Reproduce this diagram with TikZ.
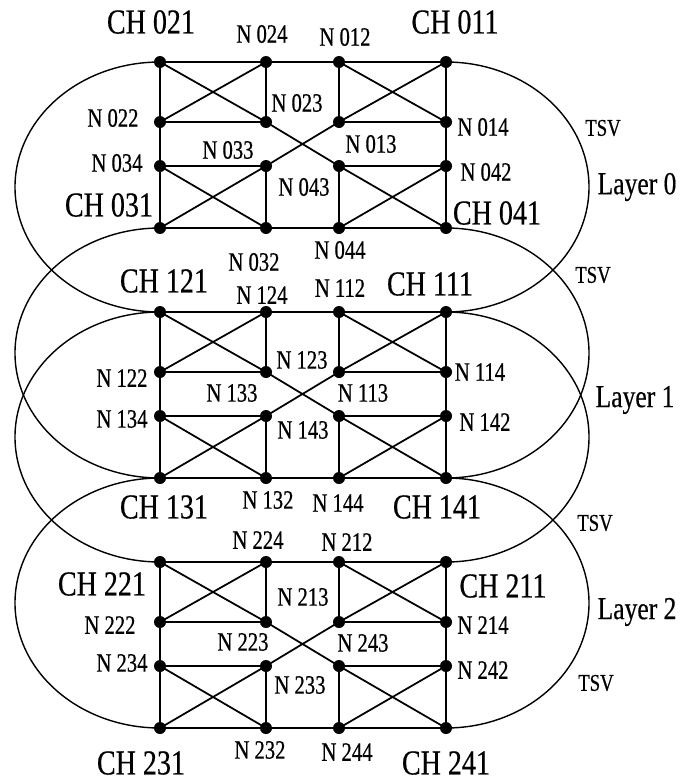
\documentclass[tikz,border=0pt]{standalone}
\usepackage{fontspec}
\setmainfont{Liberation Serif}
\newfontfamily\chfont[FakeStretch=0.80,FakeBold=0.4]{Liberation Serif}
\newfontfamily\nfont[FakeStretch=0.78,FakeBold=0.6]{Liberation Serif}
\begin{document}
\begin{tikzpicture}[x=0.03cm, y=-0.03cm,
  link/.style={line width=1.5pt},
  outline/.style={line width=1.2pt},
  dot/.style={circle, fill=black, inner sep=0pt, minimum size=0.36cm},
  chlab/.style={font=\chfont\fontsize{29.9}{30}\selectfont, inner sep=0pt},
  nlab/.style={font=\nfont\fontsize{22.6}{23}\selectfont, inner sep=0pt},
  laylab/.style={font=\chfont\fontsize{27.3}{28}\selectfont, inner sep=0pt},
  tsvlab/.style={font=\nfont\fontsize{20.5}{21}\selectfont, inner sep=0pt}]
\useasboundingbox (0,0) rectangle (683,782);

% grid points: layer k, row r, column c
\foreach \k in {0,1,2}{
  \foreach \r/\dy in {1/0,2/60,3/104,4/166}{
    \foreach \c/\x in {1/160,2/266,3/339,4/446}{
      \coordinate (p\k\r\c) at (\x,{62+250*\k+\dy});
    }
  }
}

% TSV outlines joining neighbouring layers
\draw[outline] (p011) -- (p014) arc[start angle=-90, end angle=90, x radius=143, y radius=125]
  -- (p111) arc[start angle=90, end angle=270, x radius=145, y radius=125] -- cycle;
\draw[outline] (p041) -- (p044) arc[start angle=-90, end angle=90, x radius=143, y radius=125]
  -- (p141) arc[start angle=90, end angle=270, x radius=145, y radius=125] -- cycle;
\draw[outline] (p111) -- (p114) arc[start angle=-90, end angle=90, x radius=143, y radius=125]
  -- (p211) arc[start angle=90, end angle=270, x radius=145, y radius=125] -- cycle;
\draw[outline] (p141) -- (p144) arc[start angle=-90, end angle=90, x radius=143, y radius=125]
  -- (p241) arc[start angle=90, end angle=270, x radius=145, y radius=125] -- cycle;

% links inside each layer
\foreach \k in {0,1,2}{
  \draw[link] (p\k11) -- (p\k14) -- (p\k24) -- (p\k34) -- (p\k44) -- (p\k41) -- (p\k31) -- (p\k21) -- cycle;
  \draw[link] (p\k12) -- (p\k22);
  \draw[link] (p\k32) -- (p\k42);
  \draw[link] (p\k13) -- (p\k23);
  \draw[link] (p\k33) -- (p\k43);
  \draw[link] (p\k21) -- (p\k22);
  \draw[link] (p\k23) -- (p\k24);
  \draw[link] (p\k31) -- (p\k32);
  \draw[link] (p\k33) -- (p\k34);
  \draw[link] (p\k11) -- (p\k22) -- (p\k33) -- (p\k44);
  \draw[link] (p\k41) -- (p\k32) -- (p\k23) -- (p\k14);
  \draw[link] (p\k21) -- (p\k12);
  \draw[link] (p\k13) -- (p\k24);
  \draw[link] (p\k31) -- (p\k42);
  \draw[link] (p\k43) -- (p\k34);
  \foreach \r in {1,2,3,4}{
    \foreach \c in {1,2,3,4}{
      \node[dot] (d\k\r\c) at (p\k\r\c) {};
    }
  }
}

% layer 0 labels
\node[chlab] (t021) at (151,22) {CH 021};
\node[nlab]  (t024) at (262,34) {N 024};
\node[nlab]  (t012) at (345,37) {N 012};
\node[chlab] (t011) at (455,22) {CH 011};
\node[nlab]  (t022) at (113,118) {N 022};
\node[nlab]  (t023) at (297,103) {N 023};
\node[nlab]  (t014) at (483,127) {N 014};
\node[nlab]  (t033) at (228,150) {N 033};
\node[nlab]  (t013) at (371,144) {N 013};
\node[nlab]  (t034) at (117,163) {N 034};
\node[nlab]  (t042) at (486,172) {N 042};
\node[nlab]  (t043) at (304,187) {N 043};
\node[chlab] (t031) at (109,205) {CH 031};
\node[chlab] (t041) at (497,213) {CH 041};
\node[nlab]  (t032) at (254,262) {N 032};
\node[nlab]  (t044) at (340,250) {N 044};
\node[laylab] (lay0) at (637,187) {Layer 0};
\node[tsvlab] (tsv1) at (603,128) {TSV};
\node[tsvlab] (tsv2) at (593,275) {TSV};

% layer 1 labels
\node[chlab] (t121) at (164,281) {CH 121};
\node[nlab]  (t124) at (262,295) {N 124};
\node[nlab]  (t112) at (340,288) {N 112};
\node[chlab] (t111) at (430,284) {CH 111};
\node[nlab]  (t122) at (122,378) {N 122};
\node[nlab]  (t123) at (302,360) {N 123};
\node[nlab]  (t114) at (480,372) {N 114};
\node[nlab]  (t133) at (232,393) {N 133};
\node[nlab]  (t113) at (363,393) {N 113};
\node[nlab]  (t134) at (122,419) {N 134};
\node[nlab]  (t143) at (303,430) {N 143};
\node[nlab]  (t142) at (485,422) {N 142};
\node[chlab] (t131) at (164,507) {CH 131};
\node[nlab]  (t132) at (268,500) {N 132};
\node[nlab]  (t144) at (338,503) {N 144};
\node[chlab] (t141) at (437,507) {CH 141};
\node[laylab] (lay1) at (635,400) {Layer 1};
\node[tsvlab] (tsv3) at (595,523) {TSV};

% layer 2 labels
\node[nlab]  (t224) at (258,540) {N 224};
\node[nlab]  (t212) at (347,542) {N 212};
\node[chlab] (t221) at (102,584) {CH 221};
\node[chlab] (t211) at (503,586) {CH 211};
\node[nlab]  (t213) at (303,597) {N 213};
\node[nlab]  (t222) at (110,625) {N 222};
\node[nlab]  (t214) at (483,625) {N 214};
\node[nlab]  (t223) at (243,642) {N 223};
\node[nlab]  (t243) at (363,643) {N 243};
\node[nlab]  (t234) at (122,663) {N 234};
\node[nlab]  (t242) at (483,670) {N 242};
\node[nlab]  (t233) at (300,685) {N 233};
\node[chlab] (t231) at (141,763) {CH 231};
\node[nlab]  (t232) at (260,750) {N 232};
\node[nlab]  (t244) at (347,752) {N 244};
\node[chlab] (t241) at (446,763) {CH 241};
\node[laylab] (lay2) at (637,612) {Layer 2};
\node[tsvlab] (tsv4) at (596,683) {TSV};
\end{tikzpicture}
\end{document}
